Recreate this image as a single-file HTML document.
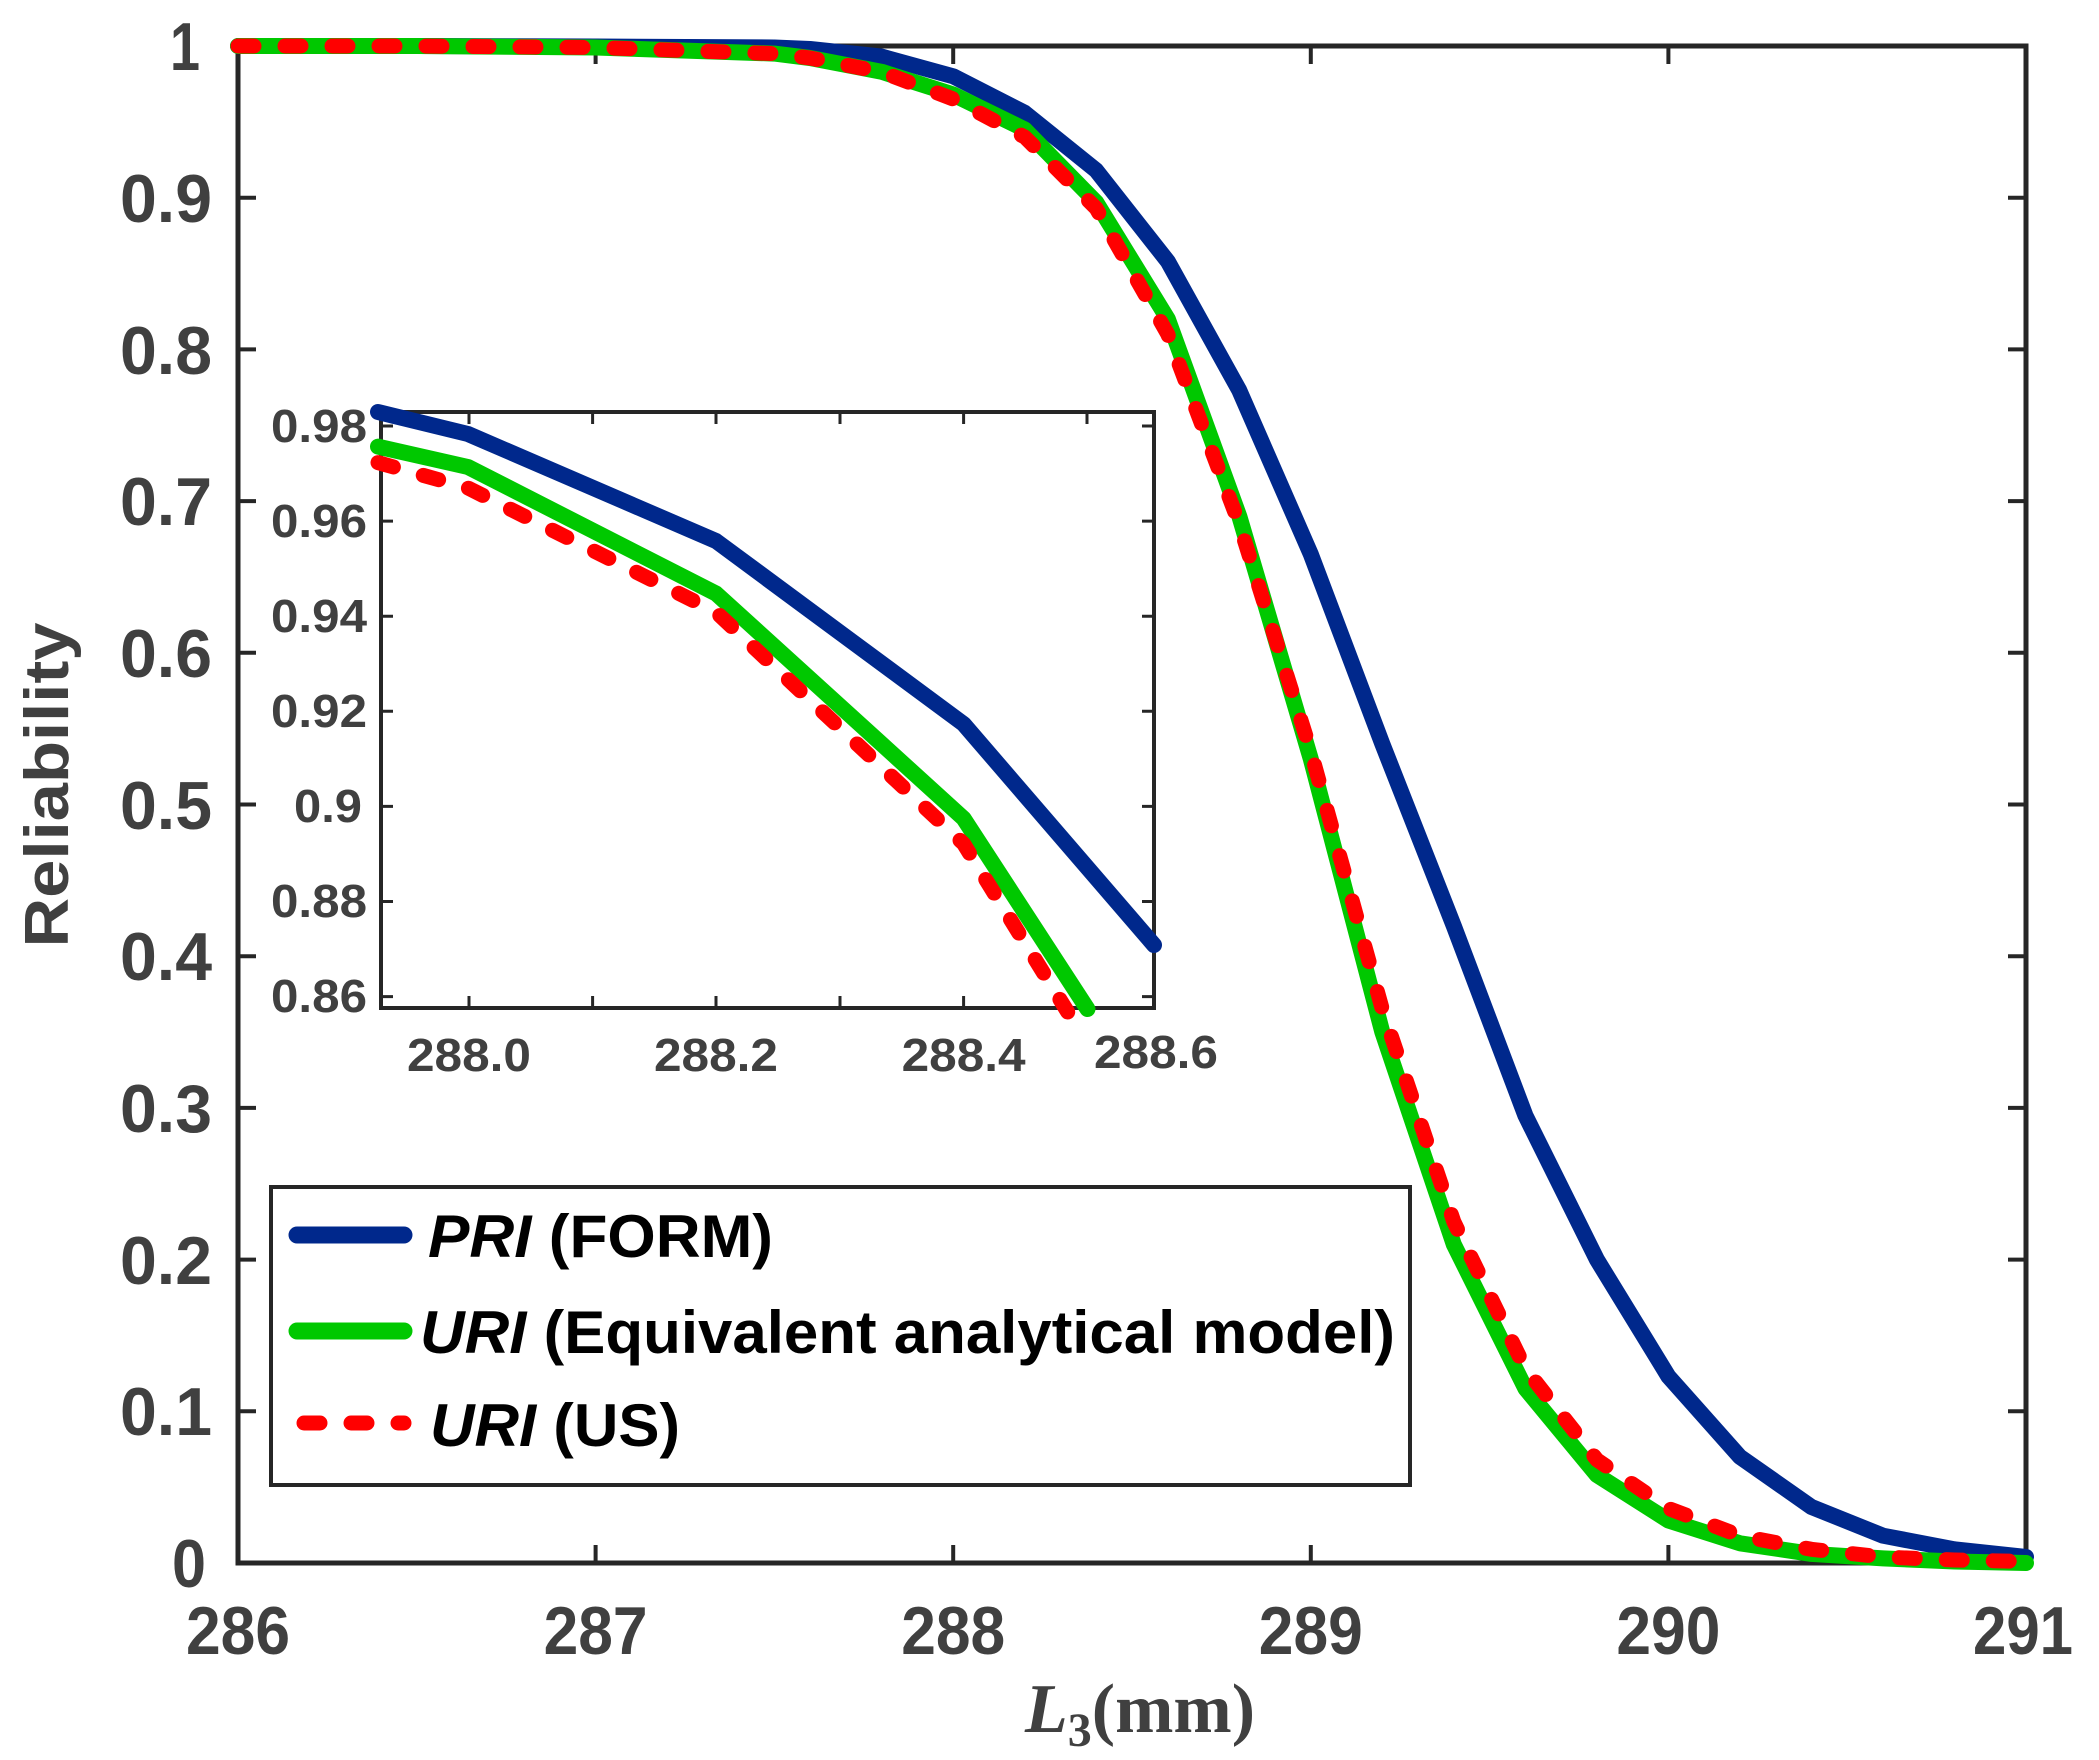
<!DOCTYPE html>
<html><head><meta charset="utf-8"><style>html,body{margin:0;padding:0;background:#fff}svg{display:block}</style></head>
<body>
<svg width="2099" height="1760" viewBox="0 0 2099 1760" xmlns="http://www.w3.org/2000/svg" font-family="Liberation Sans, Arial, sans-serif">
<rect width="2099" height="1760" fill="#fff"/>
<rect x="238" y="46" width="1788" height="1517" fill="none" stroke="#262626" stroke-width="5"/>
<g stroke="#262626" stroke-width="4">
<path d="M595.6 1563v-18M953.2 1563v-18M1310.8 1563v-18M1668.4 1563v-18M595.6 46v18M953.2 46v18M1310.8 46v18M1668.4 46v18"/>
<path d="M238 1411.3h18M238 1259.6h18M238 1107.9h18M238 956.2h18M238 804.5h18M238 652.8h18M238 501.1h18M238 349.4h18M238 197.7h18
M2026 1411.3h-18M2026 1259.6h-18M2026 1107.9h-18M2026 956.2h-18M2026 804.5h-18M2026 652.8h-18M2026 501.1h-18M2026 349.4h-18M2026 197.7h-18"/>
</g>
<g fill="#404040" font-weight="bold" font-size="68">
<g text-anchor="middle">
<text x="238" y="1654" textLength="104" lengthAdjust="spacingAndGlyphs">286</text>
<text x="595.6" y="1654" textLength="104" lengthAdjust="spacingAndGlyphs">287</text>
<text x="953.2" y="1654" textLength="104" lengthAdjust="spacingAndGlyphs">288</text>
<text x="1310.8" y="1654" textLength="104" lengthAdjust="spacingAndGlyphs">289</text>
<text x="1668.4" y="1654" textLength="104" lengthAdjust="spacingAndGlyphs">290</text>
<text x="2023" y="1654" textLength="100" lengthAdjust="spacingAndGlyphs">291</text>
</g>
<g text-anchor="end">
<text x="206" y="1587" textLength="34" lengthAdjust="spacingAndGlyphs">0</text>
<text x="212" y="1435" textLength="92" lengthAdjust="spacingAndGlyphs">0.1</text>
<text x="212" y="1284" textLength="92" lengthAdjust="spacingAndGlyphs">0.2</text>
<text x="212" y="1132" textLength="92" lengthAdjust="spacingAndGlyphs">0.3</text>
<text x="212" y="980" textLength="92" lengthAdjust="spacingAndGlyphs">0.4</text>
<text x="212" y="829" textLength="92" lengthAdjust="spacingAndGlyphs">0.5</text>
<text x="212" y="677" textLength="92" lengthAdjust="spacingAndGlyphs">0.6</text>
<text x="212" y="525" textLength="92" lengthAdjust="spacingAndGlyphs">0.7</text>
<text x="212" y="374" textLength="92" lengthAdjust="spacingAndGlyphs">0.8</text>
<text x="212" y="222" textLength="92" lengthAdjust="spacingAndGlyphs">0.9</text>
<text x="200" y="70" textLength="30" lengthAdjust="spacingAndGlyphs">1</text>
</g>
<text transform="translate(68,785) rotate(-90)" text-anchor="middle" font-size="62" textLength="325" lengthAdjust="spacingAndGlyphs">Reliability</text>
</g>
<text x="1025" y="1732" fill="#404040" font-family="Liberation Serif, serif" font-weight="bold" font-size="70"><tspan font-style="italic">L</tspan><tspan font-size="48" dy="14">3</tspan><tspan dy="-14">(mm)</tspan></text>

<g fill="none" stroke-linejoin="round" stroke-linecap="round" stroke-width="16">
<polyline stroke="#00288c" points="238,46 417,46 595.6,46.5 774.4,47.5 810,49 881.7,56.6 953.2,76.3 1024.7,112.8 1096.2,170.4 1167.8,261.4 1239.3,390.4 1310.8,554.2 1382.3,743.8 1453.8,925.9 1525.4,1115.5 1596.9,1259.6 1668.4,1376.4 1739.9,1456.8 1811.4,1506.9 1883,1535.7 1954.5,1549.3 2026,1556.9"/>
<polyline stroke="#00c800" points="238,46 417,46 595.6,47.5 774.4,53.6 810,58 881.7,71.8 953.2,94.5 1024.7,129.4 1096.2,202.3 1167.8,319 1239.3,516.3 1310.8,759 1382.3,1032 1453.8,1244.4 1525.4,1388.5 1596.9,1475 1668.4,1520.5 1739.9,1543.3 1811.4,1553.9 1883,1558.4 1954.5,1561.5 2026,1563"/>
<polyline stroke="#ff0000" stroke-width="15" stroke-dasharray="16 31" points="238,46 417,46 595.6,47.5 774.4,53.6 810,58 881.7,72 953.2,99 1024.7,137 1096.2,208.3 1167.8,334.2 1239.3,524 1310.8,751.4 1382.3,1009.3 1453.8,1221.7 1525.4,1368.8 1596.9,1459.8 1668.4,1508.4 1739.9,1535.7 1811.4,1549.3 1883,1557 1954.5,1560 2026,1561.5"/>
</g>

<rect x="381" y="412" width="773" height="596" fill="#fff" stroke="#262626" stroke-width="4"/>
<g stroke="#262626" stroke-width="3">
<path d="M469 1008v-12M592.6 1008v-12M716 1008v-12M840 1008v-12M963.6 1008v-12M1087 1008v-12
M469 412v12M592.6 412v12M716 412v12M840 412v12M963.6 412v12M1087 412v12"/>
<path d="M381 426h12M381 521.1h12M381 616.2h12M381 711.3h12M381 806.4h12M381 901.5h12M381 996.6h12
M1154 426h-12M1154 521.1h-12M1154 616.2h-12M1154 711.3h-12M1154 806.4h-12M1154 901.5h-12M1154 996.6h-12"/>
</g>
<g fill="#404040" font-weight="bold" font-size="46">
<g text-anchor="end">
<text x="367" y="442" textLength="96" lengthAdjust="spacingAndGlyphs">0.98</text>
<text x="367" y="537" textLength="96" lengthAdjust="spacingAndGlyphs">0.96</text>
<text x="367" y="632" textLength="96" lengthAdjust="spacingAndGlyphs">0.94</text>
<text x="367" y="727" textLength="96" lengthAdjust="spacingAndGlyphs">0.92</text>
<text x="362" y="822" textLength="68" lengthAdjust="spacingAndGlyphs">0.9</text>
<text x="367" y="917" textLength="96" lengthAdjust="spacingAndGlyphs">0.88</text>
<text x="367" y="1012" textLength="96" lengthAdjust="spacingAndGlyphs">0.86</text>
</g>
<g text-anchor="middle">
<text x="469" y="1071" textLength="124" lengthAdjust="spacingAndGlyphs">288.0</text>
<text x="716" y="1071" textLength="124" lengthAdjust="spacingAndGlyphs">288.2</text>
<text x="963.6" y="1071" textLength="124" lengthAdjust="spacingAndGlyphs">288.4</text>
<text x="1156" y="1068" textLength="124" lengthAdjust="spacingAndGlyphs">288.6</text>
</g>
</g>
<g fill="none" stroke-linejoin="round" stroke-linecap="round" stroke-width="16">
<polyline stroke="#00288c" points="378,412 468,434 716,541 963.6,724 1154,945"/>
<polyline stroke="#00c800" points="378,446.6 468,467 716,593.5 963.6,818.5 1087.5,1009"/>
<polyline stroke="#ff0000" stroke-width="15" stroke-dasharray="16 31" points="378,462.6 468,488 716,612 963.6,843.7 1067.7,1012"/>
</g>

<rect x="271" y="1187" width="1139" height="298" fill="#fff" stroke="#262626" stroke-width="4"/>
<g stroke-linecap="round" stroke-width="17">
<line x1="297" y1="1235" x2="404" y2="1235" stroke="#00288c"/>
<line x1="297" y1="1331" x2="404" y2="1331" stroke="#00c800"/>
<line x1="304" y1="1423" x2="404" y2="1423" stroke="#ff0000" stroke-dasharray="16 31" stroke-width="15"/>
</g>
<g fill="#000" font-weight="bold" font-size="60">
<text x="428" y="1257" textLength="345" lengthAdjust="spacingAndGlyphs"><tspan font-style="italic">PRI</tspan> (FORM)</text>
<text x="420" y="1353" textLength="975" lengthAdjust="spacingAndGlyphs"><tspan font-style="italic">URI</tspan> (Equivalent analytical model)</text>
<text x="430" y="1446" textLength="250" lengthAdjust="spacingAndGlyphs"><tspan font-style="italic">URI</tspan> (US)</text>
</g>
</svg>
</body></html>
